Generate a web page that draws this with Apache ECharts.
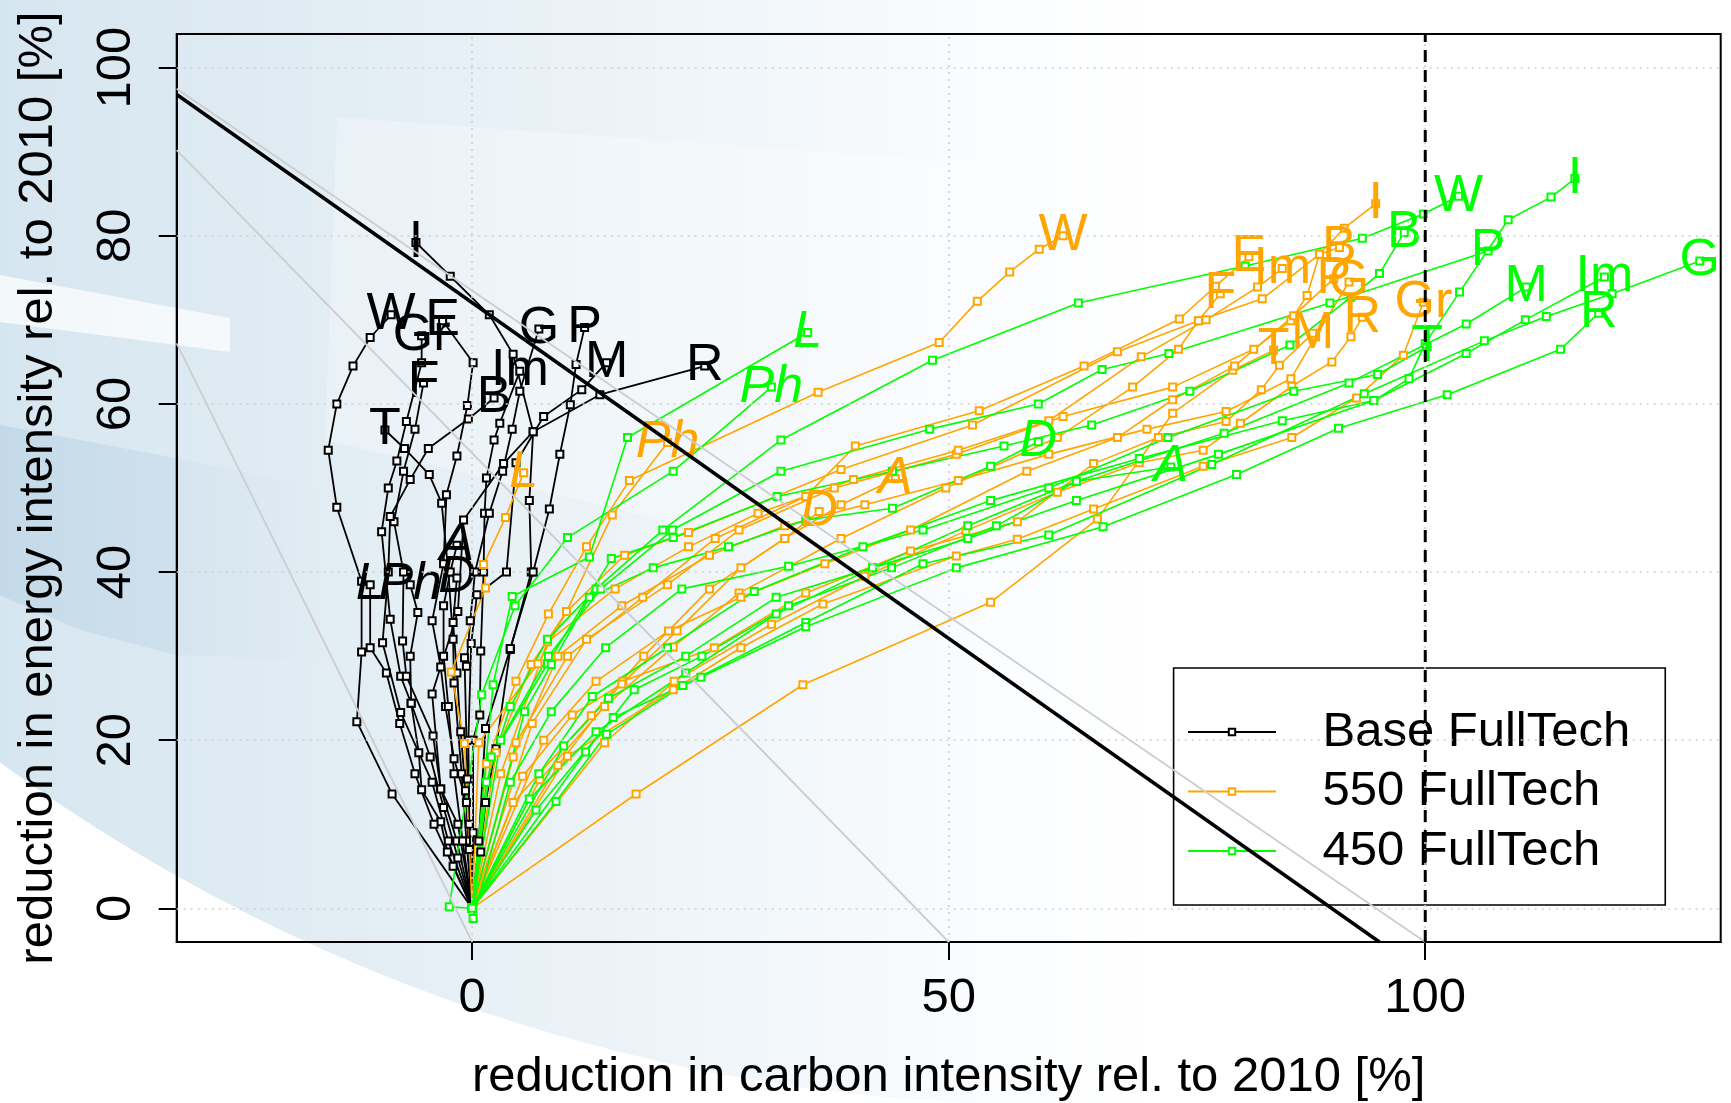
<!DOCTYPE html>
<html>
<head>
<meta charset="utf-8">
<script src="https://cdn.jsdelivr.net/npm/echarts@6/dist/echarts.min.js"></script>
<style>
  html, body { margin: 0; padding: 0; background: #ffffff; }
  #chart { width: 1731px; height: 1103px; }
</style>
</head>
<body>
<div id="chart"></div>
<script>
// Tick positions on both axes
const xTicks = [0, 50, 100];
const yTicks = [0, 20, 40, 60, 80, 100];

// Region labels drawn in italics
const italicRegions = ['L', 'Ph', 'A', 'D'];

// Baseline trajectories: [carbon-intensity reduction, energy-intensity reduction] per step
const baseNames = ['I', 'W', 'E', 'Gr', 'F', 'T', 'B', 'Im', 'G', 'P', 'M', 'R', 'L', 'Ph', 'A', 'D'];
const baseTracks = [
  [[0,0],[0.9,6.7],[1.4,12.6],[2.5,19],[4.0,30.8],[6.2,40],[6,48.5],[6.4,56.7],[4.3,65.9],[1.8,70.6],[-2.3,75.2],[-5.9,79.2]],
  [[0,0],[-8.4,13.6],[-12.1,22.2],[-11.6,30.5],[-11.6,38.9],[-14.2,47.7],[-15.1,54.5],[-14.2,60.0],[-12.5,64.5],[-10.7,67.9],[-8.5,70.6]],
  [[0,0],[-0.6,12.6],[-1.9,17.8],[-2.8,24],[-3.3,28.7],[-4.2,34.2],[-3,41],[-2.7,49.2],[-1.6,53.8],[-0.5,59.8],[0.1,64.9],[-3.1,69.9]],
  [[0,0],[-2.6,6.7],[-3.3,10.3],[-5.3,14.1],[-5.6,18.5],[-6.4,24.4],[-7.5,27.6],[-8.6,34.4],[-9.5,44.8],[-8.8,50],[-7.9,53.2],[-6.9,57.9],[-5.3,64.9],[-5.3,68.1]],
  [[0,0],[-1.6,8],[-3.3,14.2],[-4.1,20.5],[-6.9,27.6],[-7.3,31.8],[-7.2,40],[-8.2,46],[-7.2,52],[-6,57],[-5.1,62.5]],
  [[0,0],[-0.6,8],[-1.1,16],[-1.9,26.8],[-2,32],[-2.5,40],[-3.2,48.2],[-4.5,51.6],[-7.1,54.7],[-9.15,56.9]],
  [[0,0],[-2.5,8],[-4.2,15],[-7.5,23.3],[-9.4,31.6],[-8.8,40],[-8.6,46.6],[-6.5,51],[-4.6,54.7],[-0.4,58.2],[2.3,60.7]],
  [[0,0],[0.1,9],[0.1,20.0],[0.8,23.0],[0.9,30.6],[1.2,40],[1.3,47],[1.5,51.2],[2.3,55.7],[2.9,57.7],[5.0,63.9]],
  [[0,0],[-0.5,15.4],[-0.8,29.8],[-0.6,28.8],[-0.2,34.2],[0.3,40],[1.8,47],[3.2,52],[4.2,57],[5,61.5],[7.0,68.9]],
  [[0,0],[0.7,8],[1.4,21.4],[4,30.9],[6.4,40],[8.1,47.5],[9.2,54],[10.3,59.9],[10.9,64.7],[11.8,69.1]],
  [[0,0],[-0.3,10],[-0.4,20],[-0.1,31.5],[0.5,37.3],[3.6,40],[4.6,53],[7.5,58.5],[11.5,61.7],[14.1,64.9]],
  [[0,0],[-1.5,10],[-3.3,14.2],[-4.2,25.5],[-1.5,35.3],[-0.9,46.2],[3.3,52.9],[6.4,56.7],[13.4,61.1],[24.4,64.5]],
  [[0,0],[-2,5],[-4,10],[-6,16],[-7.6,22],[-9,28],[-10.7,31.0],[-10.7,38.5]],
  [[0,0],[-1.5,6],[-3,12],[-4.4,18],[-6.4,24.4],[-6.5,30],[-5.7,35.2],[-6.5,38.5]],
  [[0,0],[-1,8],[-1.9,16],[-2.5,24],[-3,30],[-3,36],[-2.3,40],[-1.6,43.2]],
  [[0,0],[-0.3,7],[-0.7,14],[-1.2,21],[-1.6,28],[-2,34],[-1.6,39.3]]
];

// 550 ppm trajectories
const s550Names = ['I', 'W', 'E', 'Gr', 'F', 'T', 'B', 'Im', 'G', 'P', 'M', 'R', 'L', 'Ph', 'A', 'D'];
const s550Tracks = [
  [[0,0],[6.3,22.0],[12,32],[20.5,38.5],[28,45],[38,50],[50.8,54],[62,58.5],[73.5,62],[82,66.5],[85.9,69.9],[87.6,72.9],[88.9,77.8],[91.5,80.9],[94.8,83.8]],
  [[0,0],[1.5,17.2],[4.6,27],[8,35],[12,43],[16.5,50.9],[36.3,61.4],[49,67.3],[53,72.2],[56.4,75.7],[59.5,78.4],[62,80]],
  [[0,0],[4.6,19.7],[10,30],[17.9,37],[25.5,44],[35,49],[40.2,55.0],[53.2,59.2],[64.2,64.5],[74.2,70.1],[78,74],[81.5,77.5]],
  [[0,0],[10.0,18.1],[21.1,26],[28.2,31],[36.8,36.2],[50.8,41.9],[57.2,43.9],[65.2,47.5],[76.7,52.6],[86,56],[92.8,60.7],[97.7,65.8],[99.8,72.1]],
  [[0,0],[7.1,15.3],[13.9,24],[21.1,31.1],[28,37.5],[38.7,44],[49.7,50],[61.4,56],[69.3,62],[74.1,66.5],[76.2,69.9],[78.5,73.1]],
  [[0,0],[17.2,13.6],[34.7,26.6],[54.4,36.4],[65.6,46.3],[73.5,58.9],[79.8,64.0],[84.1,66.4]],
  [[0,0],[2.5,18.5],[6.2,29],[9.9,35.3],[16,42],[22.7,44.7],[38.7,52.2],[52.5,57.5],[67.7,66.2],[76.2,69.9],[82.9,72.5],[88.9,77.8],[91.0,78.6]],
  [[0,0],[3,16],[7.9,31.7],[15,38],[22.7,43],[30,47],[40,51],[51,54.5],[60.5,58],[70.2,65.6],[77,70],[82.4,73.9],[85.0,76.1]],
  [[0,0],[4.3,18],[9,30],[15.7,36],[24.9,42],[32.8,45.5],[41.2,48],[51,50.9],[60.5,54],[70.8,57],[79.1,59.1],[85.9,63],[88.5,68],[92.0,74.5]],
  [[0,0],[7.5,20],[13,27],[20.6,33],[28.2,37],[37,41],[46,45],[58.2,52],[67.7,56],[73.5,60.5],[80,64.5],[86.2,70.5],[90.4,74.9]],
  [[0,0],[9,17],[15.8,27],[25.4,31],[35,37.5],[46,42.5],[57.2,46],[65.2,52.9],[72,56],[79.1,57.9],[82.8,61.7],[84.7,64.6],[88.2,68.4]],
  [[0,0],[13.9,19.7],[21.2,27],[31.4,33.8],[41.2,39.5],[51.8,44.9],[61.4,49.5],[70,53],[76.7,54.5],[80.6,57.7],[86.0,62.1],[90.2,65.0],[92.2,68.0],[93.4,70.3]],
  [[0,0],[-0.8,19.6],[-2.2,28.1],[1.4,38.1],[1.2,40.9],[3.5,46.5],[5.4,51.8]],
  [[0,0],[0.7,19.7],[6.9,29.1],[9.9,35.3],[14.7,46.8],[20.5,55.4]],
  [[0,0],[4.3,12.6],[12.5,22.9],[18,30],[24.9,38],[32.8,44],[38.7,48],[44.4,51.1]],
  [[0,0],[5.3,15.7],[10.5,23],[15.7,26.7],[21.5,33],[28.2,40.5],[32.8,44],[36.4,47.2]]
];

// 450 ppm trajectories
const s450Names = ['I', 'W', 'B', 'P', 'G', 'Im', 'M', 'R', 'T', 'A', 'D', 'Ph', 'L'];
const s450Tracks = [
  [[0,0],[7,16],[12.6,25.2],[20.5,31],[29.6,37.7],[41,43],[54.4,48.5],[70,53.5],[85,58],[94.6,60.4],[98.3,63],[100,67.2],[103.6,73.3],[108.7,81.9],[113.2,84.6],[115.7,86.8]],
  [[0,0],[1.5,15],[4,24],[7.9,32],[13,38],[20,45],[32.4,55.7],[48.3,65.2],[63.6,72.0],[81.1,76.4],[93.4,79.7],[99.8,82.6],[103.5,84.7]],
  [[0,0],[2,18],[7.9,29.1],[14.6,41.6],[21.1,44.1],[32,49],[44.1,52],[55.8,55.0],[65,57.5],[75.3,61.5],[85.8,67],[92.2,72.7],[95.2,75.5],[97.8,80.4]],
  [[0,0],[3,20],[8,30],[13.5,38],[21,45],[32.4,52],[48,57],[59.4,60],[66.1,64.1],[73.1,66.0],[90,72],[106.6,78.2]],
  [[0,0],[8.8,12.7],[14.1,20.7],[22.1,26.5],[35,34],[47.3,41.0],[60.5,44.4],[77.6,52.8],[93.6,61.2],[106.2,67.5],[112.7,70.4],[119.6,73.1],[128.8,77.0]],
  [[0,0],[9.6,19.3],[14.3,25],[22.4,30],[31.9,37],[42,40.5],[52,44],[63.4,48.5],[78.3,54],[94.6,60.4],[104.3,66],[110.5,70],[118.8,75.1]],
  [[0,0],[11.9,18.6],[17,26],[24.1,30],[33.2,36],[44,40.5],[55,45.5],[63.4,50.8],[78.9,56.5],[92,62.5],[104.3,69.5],[110.6,73.9]],
  [[0,0],[6.7,11.7],[14.8,22.7],[24,27.5],[35,33.5],[50.8,40.5],[66.2,45.4],[80.2,51.6],[90.9,57.1],[102.3,61.1],[114.2,66.5],[118.2,70.8]],
  [[0,0],[0.1,-1.2],[4,15],[8.3,23.4],[14,31],[22,38],[33.2,40.7],[47.3,45],[60.5,50],[73,56],[86.2,61.5],[95,63.5],[100.2,66.8]],
  [[0,0],[6,13],[13,21],[22.4,28],[31.9,35],[42,40.5],[52,45.5],[63.4,50.8],[73.3,52.5]],
  [[0,0],[5.5,23.4],[8.3,29],[12.3,37],[19,40.5],[26.9,43],[35,46.2],[44.1,47.6],[54.4,52.6],[59.4,55.5]],
  [[0,0],[-2.4,0.2],[1.0,25.4],[4.5,36],[10,44.1],[21.1,52],[31.4,62.0]],
  [[0,0],[2.2,26.6],[4.2,37.1],[12.3,41.8],[16.3,56.0],[35.2,68.5]]
];

// Reference lines (data coordinates)
const thickLine = [[-31, 96.8], [95.2, -4]];
const grayLines = [
  [[-31, 97.5], [100, -4]],
  [[-31, 90.2], [50, -4]],
  [[-31, 67.2], [0, -4]]
];
const fullDecarbLine = [[100, -4], [100, 104]];

const FONT = "'Liberation Sans', Arial, Helvetica, sans-serif";

const scenarios = [
  { name: 'Base FullTech', color: '#000000', width: 1.8, names: baseNames, tracks: baseTracks },
  { name: '550 FullTech', color: '#FFA500', width: 1.6, names: s550Names, tracks: s550Tracks },
  { name: '450 FullTech', color: '#00FF00', width: 1.6, names: s450Names, tracks: s450Tracks }
];

const series = [];

// dotted grid lines at the tick positions
series.push({
  type: 'line', name: 'grid', data: [], symbol: 'none', silent: true, z: 1,
  markLine: {
    silent: true, symbol: 'none', label: { show: false },
    lineStyle: { color: '#cfcfcf', width: 1.6, type: [2, 5] },
    data: xTicks.map(v => ({ xAxis: v })).concat(yTicks.map(v => ({ yAxis: v })))
  }
});

scenarios.forEach(sc => {
  sc.tracks.forEach((track, i) => {
    const region = sc.names[i];
    const data = track.map((p, j) => {
      if (j < track.length - 1) return p;
      return {
        value: p,
        label: {
          show: true, position: 'inside', formatter: region,
          color: sc.color, fontSize: 52, fontFamily: FONT,
          fontStyle: italicRegions.includes(region) ? 'italic' : 'normal'
        }
      };
    });
    series.push({
      type: 'line', name: sc.name, data: data, z: 3,
      symbol: 'emptyRect', symbolSize: 7, showAllSymbol: true,
      itemStyle: { color: sc.color, borderWidth: 1.3 },
      lineStyle: { color: sc.color, width: sc.width },
      emphasis: { disabled: true }
    });
  });
});

grayLines.forEach(seg => {
  series.push({
    type: 'line', name: 'ref', data: seg, symbol: 'none', silent: true, z: 4, clip: true,
    lineStyle: { color: '#cdcdcd', width: 1.8 }
  });
});
series.push({
  type: 'line', name: 'ref', data: thickLine, symbol: 'none', silent: true, z: 5, clip: true,
  lineStyle: { color: '#000000', width: 3.5 }
});
series.push({
  type: 'line', name: 'ref', data: fullDecarbLine, symbol: 'none', silent: true, z: 5, clip: true,
  lineStyle: { color: '#000000', width: 3, type: [12, 8] }
});

const chart = echarts.init(document.getElementById('chart'), null, { renderer: 'canvas' });

// soft blue backdrop behind the plot
const bg = [
  {
    type: 'circle', z: -20, silent: true,
    shape: { cx: 1052, cy: -682, r: 1787 },
    style: {
      fill: new echarts.graphic.LinearGradient(0, 0, 1150, 0, [
        { offset: 0, color: '#d6e6f0' },
        { offset: 0.3, color: '#e2edf4' },
        { offset: 0.6, color: '#eff5f9' },
        { offset: 0.85, color: '#fafcfe' },
        { offset: 1, color: '#ffffff' }
      ], true)
    }
  },
  {
    type: 'polygon', z: -19, silent: true,
    shape: { points: [[0, 425], [176, 458], [176, 655], [80, 630], [0, 595]] },
    style: {
      fill: new echarts.graphic.LinearGradient(0, 0, 340, 0, [
        { offset: 0, color: 'rgba(150,185,212,0.28)' },
        { offset: 1, color: 'rgba(150,185,212,0.10)' }
      ], true)
    }
  },
  {
    type: 'polygon', z: -19, silent: true,
    shape: { points: [[176, 458], [330, 490], [330, 660], [176, 655]] },
    style: {
      fill: new echarts.graphic.LinearGradient(176, 0, 330, 0, [
        { offset: 0, color: 'rgba(150,185,212,0.10)' },
        { offset: 1, color: 'rgba(150,185,212,0)' }
      ], true)
    }
  },
  {
    type: 'polygon', z: -18, silent: true,
    shape: { points: [[0, 275], [230, 318], [230, 352], [0, 322]] },
    style: { fill: 'rgba(255,255,255,0.7)' }
  },
  {
    type: 'polygon', z: -18, silent: true,
    shape: { points: [[337, 117], [1000, 165], [1000, 600], [325, 440]] },
    style: { fill: 'rgba(255,255,255,0.28)' }
  }
];

chart.setOption({
  animation: false,
  backgroundColor: '#ffffff',
  graphic: { elements: bg },
  grid: {
    left: 176.7, right: 10.3, top: 34, bottom: 161,
    outerBoundsMode: 'none', containLabel: false,
    show: true, borderColor: '#000000', borderWidth: 2, backgroundColor: 'transparent'
  },
  legend: {
    data: ['Base FullTech', '550 FullTech', '450 FullTech'],
    orient: 'vertical', left: 1173.6, top: 668,
    backgroundColor: '#ffffff', borderColor: '#000000', borderWidth: 1.6,
    padding: [39, 35, 29, 13.4],
    itemWidth: 88, itemHeight: 8, itemGap: 9.5,
    selectedMode: false,
    textStyle: { fontSize: 49, fontFamily: FONT, color: '#000', lineHeight: 50, padding: [0, 0, 0, 41.5] }
  },
  xAxis: {
    type: 'value', min: -31, max: 131,
    name: 'reduction in carbon intensity rel. to 2010 [%]',
    nameLocation: 'middle', nameGap: 110,
    nameTextStyle: { fontSize: 49, fontFamily: FONT, color: '#000', lineHeight: 50 },
    axisLine: { show: true, onZero: false, lineStyle: { color: '#000', width: 2 } },
    axisTick: { show: true, customValues: xTicks, length: 18, lineStyle: { color: '#000', width: 2 } },
    axisLabel: { show: true, customValues: xTicks, fontSize: 49, fontFamily: FONT, color: '#000', margin: 31, lineHeight: 50 },
    splitLine: { show: false }
  },
  yAxis: {
    type: 'value', min: -4, max: 104,
    name: 'reduction in energy intensity rel. to 2010 [%]',
    nameLocation: 'middle', nameGap: 113,
    nameTextStyle: { fontSize: 49, fontFamily: FONT, color: '#000', lineHeight: 50 },
    axisLine: { show: true, onZero: false, lineStyle: { color: '#000', width: 2 } },
    axisTick: { show: true, customValues: yTicks, length: 18, lineStyle: { color: '#000', width: 2 } },
    axisLabel: { show: true, customValues: yTicks, rotate: 90, fontSize: 49, fontFamily: FONT, color: '#000', margin: 35, lineHeight: 50 },
    splitLine: { show: false }
  },
  series: series
});
</script>
</body>
</html>
